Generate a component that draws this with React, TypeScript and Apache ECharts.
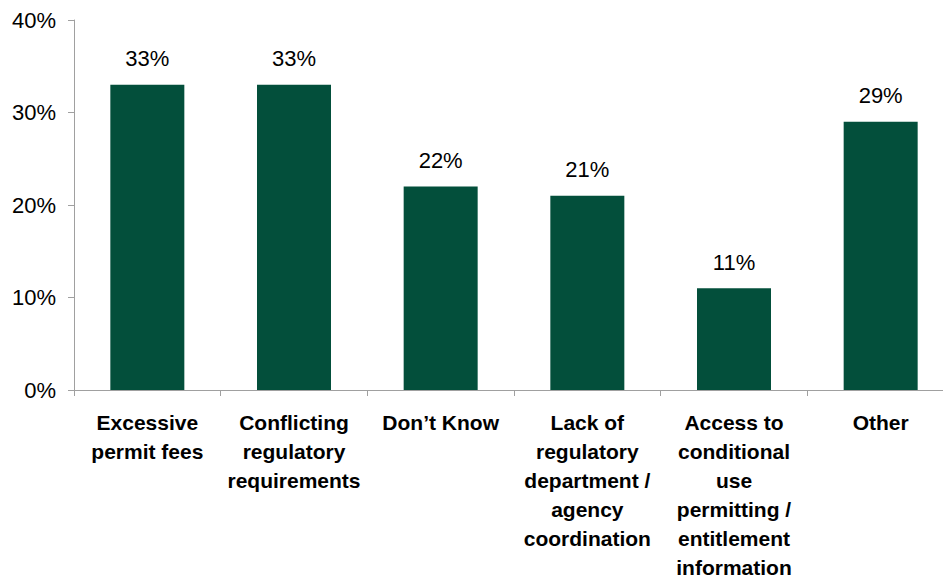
import React, { useEffect, useRef } from "react";
import * as echarts from "echarts";

const categories = [
  "Excessive\npermit fees",
  "Conflicting\nregulatory\nrequirements",
  "Don\u2019t Know",
  "Lack of\nregulatory\ndepartment /\nagency\ncoordination",
  "Access to\nconditional\nuse\npermitting /\nentitlement\ninformation",
  "Other",
];
const values = [33, 33, 22, 21, 11, 29];
const yTicks = { min: 0, max: 40, interval: 10 };

export default function App() {
  const ref = useRef<HTMLDivElement>(null);
  useEffect(() => {
    const chart = echarts.init(ref.current!, null, { renderer: "svg" });
    const font = "'Liberation Sans', Arial, sans-serif";
    chart.setOption({
      animation: false,
      backgroundColor: "#ffffff",
      grid: {
        left: 74,
        top: 20,
        bottom: 188,
        right: 0,
        containLabel: false,
        outerBoundsMode: "none",
      },
      xAxis: {
        type: "category",
        data: categories,
        axisLine: { show: true, lineStyle: { color: "#a0a0a0", width: 1 } },
        axisTick: { show: true, length: 6, lineStyle: { color: "#a0a0a0" } },
        axisLabel: {
          interval: 0,
          color: "#000",
          fontFamily: font,
          fontWeight: "bold",
          fontSize: 21,
          lineHeight: 29,
          margin: 18,
        },
      },
      yAxis: {
        type: "value",
        min: yTicks.min,
        max: yTicks.max,
        interval: yTicks.interval,
        splitLine: { show: false },
        axisLine: { show: true, lineStyle: { color: "#a0a0a0", width: 1 } },
        axisTick: { show: true, length: 6, lineStyle: { color: "#a0a0a0" } },
        axisLabel: {
          formatter: "{value}%",
          color: "#000",
          fontFamily: font,
          fontSize: 22,
          margin: 18,
        },
      },
      series: [
        {
          type: "bar",
          data: values,
          barWidth: 74,
          itemStyle: { color: "#034f3b" },
          label: {
            show: true,
            position: "top",
            distance: 15,
            formatter: "{c}%",
            color: "#000",
            fontFamily: font,
            fontSize: 22,
          },
        },
      ],
    });
    return () => chart.dispose();
  }, []);
  return (
    <div
      style={{
        position: "absolute",
        left: 0,
        top: 0,
        width: 943,
        height: 578,
        overflow: "hidden",
      }}
    >
      <div ref={ref} style={{ width: 954, height: 578 }} />
    </div>
  );
}
